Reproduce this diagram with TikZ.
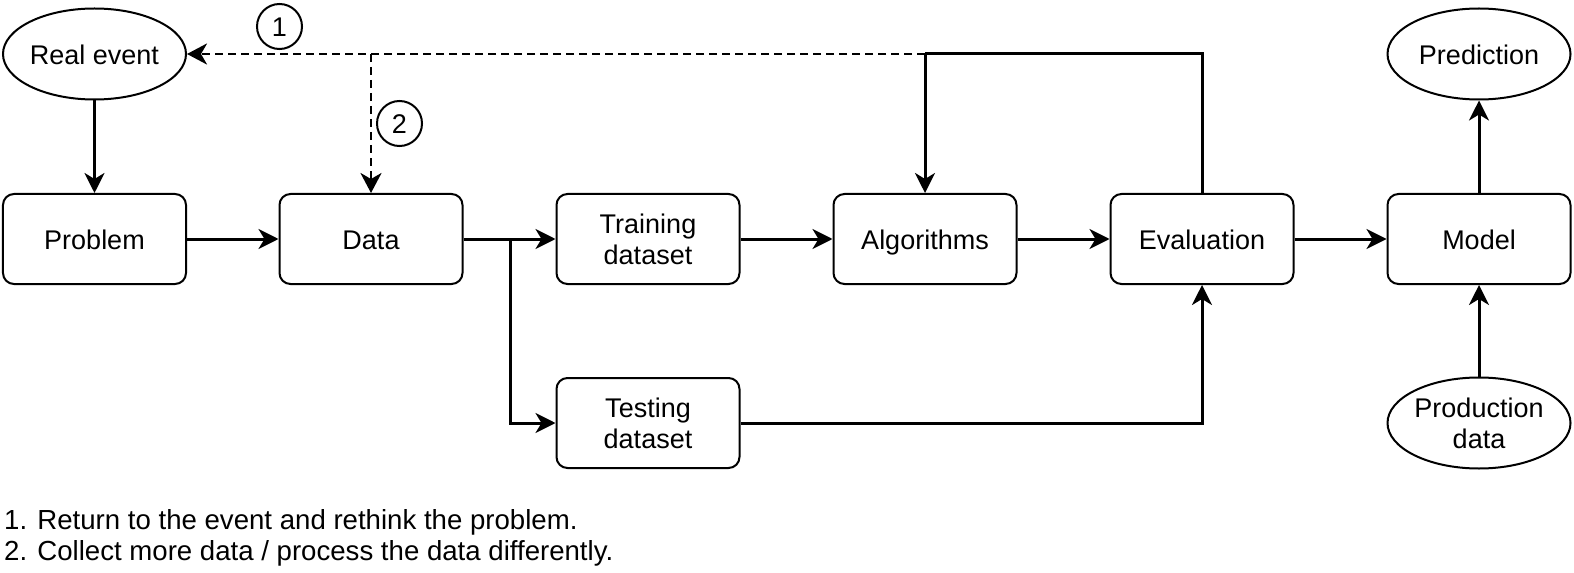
\documentclass[tikz,border=0pt]{standalone}
\usepackage{fontspec}
\setmainfont{Liberation Sans}
\usetikzlibrary{arrows.meta,shapes.geometric}
\begin{document}
\begin{tikzpicture}[x=1bp,y=-1bp,
  every node/.style={font=\fontsize{27bp}{31bp}\selectfont, text=black},
  box/.style={draw, line width=2bp, rounded corners=11bp, minimum width=183bp, minimum height=90bp, inner sep=0pt, align=center},
  oval/.style={draw, ellipse, line width=2bp, minimum width=183bp, minimum height=91bp, inner sep=0pt, align=center},
  one/.style={text height=26bp, text depth=5.4bp},
  num/.style={draw, circle, line width=2bp, minimum size=45bp, inner sep=0pt, text height=19.5bp, text depth=0bp},
  conn/.style={line width=3bp, -{Stealth[length=20bp,width=20bp,inset=6bp]}},
  plain/.style={line width=3bp},
  dconn/.style={line width=2.7bp, dash pattern=on 8bp off 5bp, -{Stealth[length=20bp,width=21bp,inset=6bp]}},
  note/.style={anchor=west, inner sep=0pt, font=\fontsize{27.6bp}{31bp}\selectfont}
]
\useasboundingbox (0,0) rectangle (1574,573);

\node[oval, one] (real) at (94.5,54) {Real event};
\node[oval, one] (pred) at (1479,54) {Prediction};
\node[oval] (prod) at (1479,423) {Production\\data};

\node[box, one] (problem) at (94.5,239) {Problem};
\node[box, one] (data) at (371,239) {Data};
\node[box] (train) at (648,239) {Training\\dataset};
\node[box, one] (algo) at (925,239) {Algorithms};
\node[box, one] (eval) at (1202,239) {Evaluation};
\node[box, one] (model) at (1479,239) {Model};
\node[box] (test) at (648,423) {Testing\\dataset};

\node[num] (n1) at (279.5,26.5) {1};
\node[num] (n2) at (399.5,123.5) {2};

\coordinate (j1) at (925,54);
\coordinate (j2) at (371,54);
\coordinate (split) at (510,239);

\draw[conn] (real) -- (problem);
\draw[conn] (problem) -- (data);
\draw[conn] (data) -- (train);
\draw[conn] (split) |- (test.west);
\draw[conn] (train) -- (algo);
\draw[conn] (algo) -- (eval);
\draw[conn] (eval) -- (model);
\draw[conn] (model) -- (pred);
\draw[conn] (prod) -- (model);
\draw[conn] (test.east) -| (eval.south);
\draw[plain] (eval.north) |- (j1);
\draw[conn] (j1) -- (algo.north);
\draw[dconn] (j1) -- (real.east);
\draw[dconn] (j2) -- (data.north);

\node[note] (f1) at (4,522) {1. Return to the event and rethink the problem.};
\node[note] (f2) at (4,553) {2. Collect more data / process the data differently.};
\end{tikzpicture}
\end{document}
